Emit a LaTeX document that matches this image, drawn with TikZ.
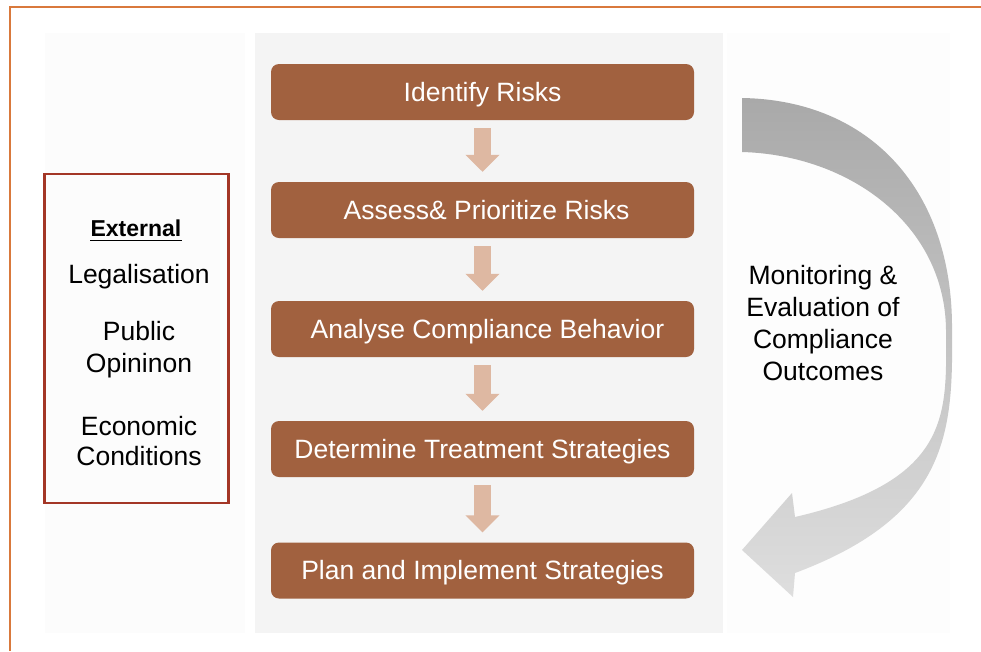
\documentclass[tikz,border=0pt]{standalone}
\usepackage{fontspec}
\setmainfont{Liberation Sans}
\usetikzlibrary{arrows.meta,calc}

\definecolor{framecol}{RGB}{217,121,60}
\definecolor{panelleft}{RGB}{252,252,252}
\definecolor{panelmid}{RGB}{244,244,244}
\definecolor{panelright}{RGB}{253,253,253}
\definecolor{stepfill}{RGB}{161,97,63}
\definecolor{flowcol}{RGB}{222,184,162}
\definecolor{extborder}{RGB}{163,54,38}
\definecolor{loopdark}{RGB}{169,169,169}
\definecolor{looplight}{RGB}{222,222,222}

\tikzset{
  stepbox/.style={rectangle, rounded corners=8pt, fill=stepfill, text=white,
    minimum width=423pt, minimum height=56pt, inner sep=0pt,
    text height=18.8pt, text depth=0pt,
    font=\fontsize{26.5}{32}\selectfont},
  flow/.style={draw=flowcol, line width=17pt, line cap=butt,
    -{Triangle[width=33pt,length=17pt]}},
  sidetext/.style={anchor=base, inner sep=0pt, font=\fontsize{26.5}{32}\selectfont},
}

\begin{document}
\begin{tikzpicture}[x=1pt, y=-1pt]
\useasboundingbox (0,0) rectangle (981,651);
\fill[white] (0,0) rectangle (981,651);

% outer frame (left and top edges)
\draw[framecol, line width=2.5pt] (10,651) -- (10,7) -- (981,7);

% background panels
\fill[panelleft]  (45,33)  rectangle (245,633);
\fill[panelmid]   (255,33) rectangle (723,633);
\fill[panelright] (727,33) rectangle (950,633);

% process steps
\node[stepbox] (s1) at (482.5,92)  {Identify Risks};
\node[stepbox] (s2) at (482.5,210) {\hspace{8pt}Assess\& Prioritize Risks};
\node[stepbox] (s3) at (482.5,329) {\hspace{10pt}Analyse Compliance Behavior};
\node[stepbox] (s4) at (482.5,449) {Determine Treatment Strategies};
\node[stepbox] (s5) at (482.5,570.5) {Plan and Implement Strategies};

% arrows between steps
\draw[flow] ([yshift=-8pt]s1.south) -- ([yshift=10pt]s2.north);
\draw[flow] ([yshift=-8pt]s2.south) -- ([yshift=10pt]s3.north);
\draw[flow] ([yshift=-8pt]s3.south) -- ([yshift=10pt]s4.north);
\draw[flow] ([yshift=-8pt]s4.south) -- ([yshift=10pt]s5.north);

% external factors box
\node[draw=extborder, line width=2.5pt, minimum width=184pt, minimum height=329pt,
      inner sep=0pt] (ext) at (136.5,338.5) {};
\node[sidetext, font=\fontsize{23}{28}\selectfont\bfseries] (exthead) at (136,236) {External};
\draw[line width=1.8pt] ([yshift=-4.5pt]exthead.base west) -- ([yshift=-4.5pt]exthead.base east);
\node[sidetext] (legal) at (139,283) {Legalisation};
\node[sidetext] (pub1)  at (139,340) {Public};
\node[sidetext] (pub2)  at (139,372) {Opininon};
\node[sidetext] (eco1)  at (139,435) {Economic};
\node[sidetext] (eco2)  at (139,465) {Conditions};

% monitoring loop arrow
\shade[top color=loopdark, bottom color=looplight]
  (742,98) .. controls (870,100) and (953,190) .. (952,330)
  .. controls (953,430) and (950,515) .. (795,573)
  -- (793,597) -- (742,550) -- (792,493) -- (795,517)
  .. controls (955,480) and (946,410) .. (946,330)
  .. controls (945,225) and (850,155) .. (742,152) -- cycle;

% monitoring label
\node[sidetext] (mon1) at (823,284) {Monitoring \&};
\node[sidetext] (mon2) at (823,316) {Evaluation of};
\node[sidetext] (mon3) at (823,348) {Compliance};
\node[sidetext] (mon4) at (823,380) {Outcomes};
\end{tikzpicture}
\end{document}
